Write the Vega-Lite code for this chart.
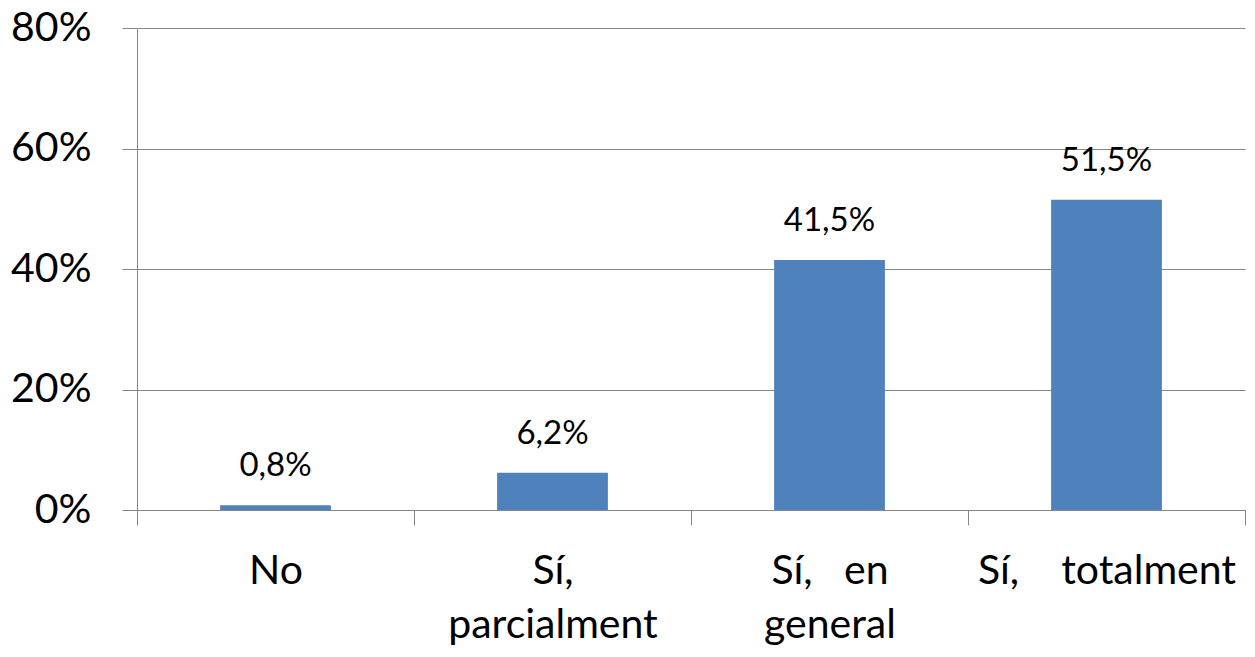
{
  "$schema": "https://vega.github.io/schema/vega-lite/v6.json",
  "width": 1108,
  "height": 482,
  "autosize": {"type": "none"},
  "padding": {"left": 137, "top": 28, "right": 10, "bottom": 147},
  "background": "white",
  "data": {
    "values": [
      {"cat": "No", "val": 0.008, "lbl": "0,8%"},
      {"cat": "Sí, parcialment", "val": 0.062, "lbl": "6,2%"},
      {"cat": "Sí, en general", "val": 0.415, "lbl": "41,5%"},
      {"cat": "Sí, totalment", "val": 0.515, "lbl": "51,5%"}
    ]
  },
  "config": {"view": {"stroke": null}, "font": "Lato"},
  "encoding": {
    "x": {
      "field": "cat",
      "type": "nominal",
      "sort": null,
      "scale": {"paddingInner": 0, "paddingOuter": 0},
      "axis": {
        "title": null,
        "labelAngle": 0,
        "labelFontSize": 41,
        "labelColor": "#000000",
        "labelPadding": 26,
        "labelLineHeight": 54,
        "labelBaseline": "top",
        "labelLimit": 0,
        "labelOverlap": false,
        "tickBand": "extent",
        "tickSize": 15,
        "tickColor": "#868686",
        "domainColor": "#868686",
        "labelExpr": "datum.value == 'Sí, parcialment' ? ['Sí,', 'parcialment'] : datum.value == 'Sí, en general' ? ['Sí,\u00a0\u00a0\u00a0en', 'general'] : datum.value == 'Sí, totalment' ? 'Sí,\u00a0\u00a0\u00a0\u00a0totalment' : datum.value"
      }
    }
  },
  "layer": [
    {
      "mark": {"type": "bar", "color": "#4F81BD", "width": {"band": 0.4}},
      "encoding": {
        "y": {
          "field": "val",
          "type": "quantitative",
          "scale": {"domain": [0, 0.8], "nice": false},
          "axis": {
            "title": null,
            "values": [0, 0.2, 0.4, 0.6, 0.8],
            "format": ".0%",
            "grid": true,
            "gridColor": "#868686",
            "domainColor": "#868686",
            "tickColor": "#868686",
            "tickSize": 15,
            "labelFontSize": 41,
            "labelColor": "#000000",
            "labelPadding": 31
          }
        }
      }
    },
    {
      "mark": {"type": "text", "baseline": "bottom", "dy": -22, "fontSize": 33, "color": "#000000"},
      "encoding": {
        "y": {"field": "val", "type": "quantitative"},
        "text": {"field": "lbl"}
      }
    }
  ]
}
